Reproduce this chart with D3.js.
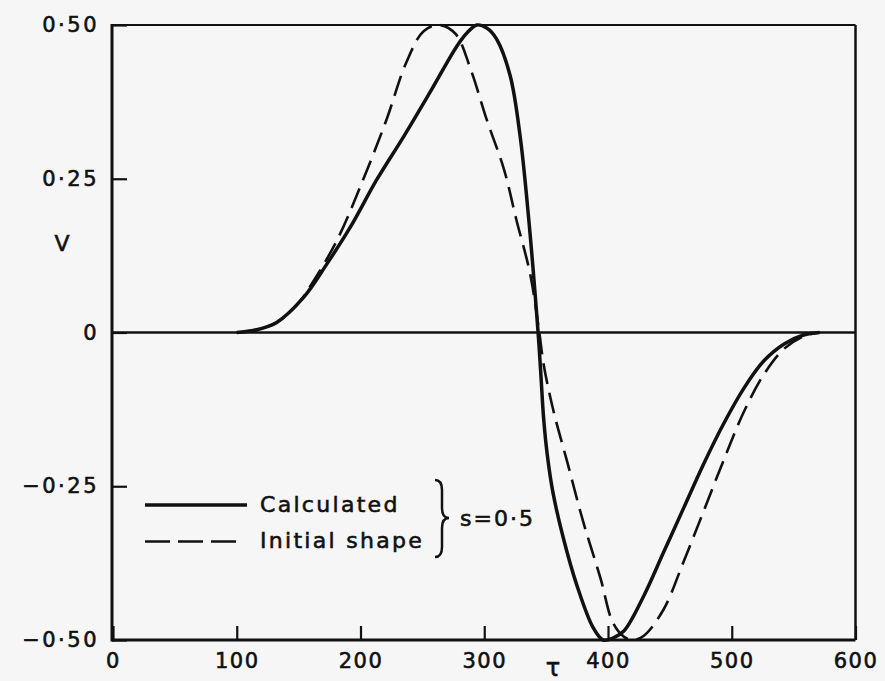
<!DOCTYPE html>
<html>
<head>
<meta charset="utf-8">
<script src="https://cdn.jsdelivr.net/npm/d3@7"></script>
<style>
  html, body { margin: 0; padding: 0; background: #f6f6f6; }
  svg { display: block; }
  text { font-family: 'DejaVu Sans', sans-serif; fill: #111; stroke: #111; stroke-width: 0.6px; }
</style>
</head>
<body>
<svg id="chart" width="885" height="681"></svg>
<script>
// ---- data ----
const calcTau = [100, 115, 132, 154, 173, 192, 213, 235, 256, 278, 286, 294, 302, 310, 321, 329, 336, 343.5, 345.5, 348, 351, 355.5, 364, 375, 388, 396, 404, 413, 429, 445, 461, 477, 493, 510, 526, 542, 558, 571];
const calcV   = [0, 0.004, 0.016, 0.057, 0.112, 0.172, 0.248, 0.319, 0.39, 0.466, 0.487, 0.5, 0.495, 0.477, 0.417, 0.319, 0.183, 0, -0.06, -0.14, -0.2, -0.26, -0.335, -0.412, -0.48, -0.5, -0.497, -0.485, -0.428, -0.357, -0.286, -0.215, -0.15, -0.09, -0.046, -0.019, -0.004, 0];

const initTau = [100, 115, 132, 150, 159, 181, 202, 221, 237, 251, 264, 277, 289, 302, 316, 326, 337, 344.5, 348, 356, 367, 380, 394, 404, 413, 420, 429, 445, 461, 477, 493, 510, 526, 542, 558, 571];
const initV   = [0, 0.004, 0.016, 0.048, 0.074, 0.15, 0.248, 0.346, 0.439, 0.49, 0.5, 0.485, 0.428, 0.346, 0.265, 0.183, 0.096, 0, -0.052, -0.128, -0.21, -0.308, -0.4, -0.472, -0.495, -0.5, -0.493, -0.45, -0.373, -0.292, -0.21, -0.128, -0.068, -0.027, -0.006, 0];

const xTicks = [0, 100, 200, 300, 400, 500, 600];
const yTicks = [-0.5, -0.25, 0, 0.25, 0.5];
const yTickLabels = ["−0·50", "−0·25", "0", "0·25", "0·50"];
const legendLabels = ["Calculated", "Initial shape"];
const paramLabel = "s=0·5";

// ---- drawing ----
const svg = d3.select("#chart");
const x = d3.scaleLinear().domain([0, 600]).range([113, 855.5]);
const y = d3.scaleLinear().domain([-0.5, 0.5]).range([640, 25]);

const ink = "#111";

// x axis (ticks inward)
const gx = svg.append("g").attr("transform", `translate(0,${y(-0.5)})`)
  .call(d3.axisBottom(x).tickValues(xTicks).tickSizeInner(-14).tickSizeOuter(0).tickPadding(13));
gx.select(".domain").remove();
gx.selectAll(".tick line").attr("stroke", ink).attr("stroke-width", 2.2);
gx.selectAll(".tick text").attr("font-size", 21).attr("letter-spacing", 1.5).attr("fill", ink);

// y axis
const gy = svg.append("g").attr("transform", `translate(${x(0) - 1},0)`)
  .call(d3.axisLeft(y).tickValues(yTicks).tickSizeInner(-15).tickSizeOuter(0).tickPadding(13)
    .tickFormat((d, i) => yTickLabels[i]));
gy.select(".domain").remove();
gy.selectAll(".tick line").attr("stroke", ink).attr("stroke-width", 2.2);
gy.selectAll(".tick text").attr("font-size", 21).attr("letter-spacing", 2.5).attr("fill", ink);

// frame
svg.append("line").attr("x1", x(0) - 1).attr("x2", x(600)).attr("y1", y(0.5)).attr("y2", y(0.5))
  .attr("stroke", ink).attr("stroke-width", 2);
svg.append("line").attr("x1", x(600)).attr("x2", x(600)).attr("y1", y(0.5)).attr("y2", y(-0.5))
  .attr("stroke", ink).attr("stroke-width", 2.5);
svg.append("line").attr("x1", x(0) - 1).attr("x2", x(600)).attr("y1", y(-0.5)).attr("y2", y(-0.5))
  .attr("stroke", ink).attr("stroke-width", 3);
svg.append("line").attr("x1", x(0) - 1).attr("x2", x(0) - 1).attr("y1", y(0.5) - 1).attr("y2", y(-0.5) + 1.5)
  .attr("stroke", ink).attr("stroke-width", 3);
// zero line
svg.append("line").attr("x1", x(0)).attr("x2", x(600)).attr("y1", y(0)).attr("y2", y(0))
  .attr("stroke", ink).attr("stroke-width", 2.5);

// curves
const line = d3.line().x(d => x(d[0])).y(d => y(d[1])).curve(d3.curveCatmullRom.alpha(0.5));
const calc = calcTau.map((t, i) => [t, calcV[i]]);
const init = initTau.map((t, i) => [t, initV[i]]);

svg.append("path").attr("d", line(init)).attr("fill", "none")
  .attr("stroke", ink).attr("stroke-width", 2.6).attr("stroke-dasharray", "21,9");
svg.append("path").attr("d", line(calc)).attr("fill", "none")
  .attr("stroke", ink).attr("stroke-width", 3.5);

// axis titles
svg.append("text").attr("x", 62).attr("y", 251).attr("text-anchor", "middle")
  .attr("font-size", 22).text("V");
svg.append("text").attr("x", 553).attr("y", 676).attr("text-anchor", "middle")
  .attr("font-size", 24).text("τ");

// legend
const lg = svg.append("g");
lg.append("line").attr("x1", 145).attr("x2", 247).attr("y1", 505).attr("y2", 505)
  .attr("stroke", ink).attr("stroke-width", 3.5);
lg.append("line").attr("x1", 145).attr("x2", 244).attr("y1", 541.5).attr("y2", 541.5)
  .attr("stroke", ink).attr("stroke-width", 2.6).attr("stroke-dasharray", "25,8");
lg.append("text").attr("x", 260).attr("y", 512).attr("font-size", 22).attr("letter-spacing", 2.3).text(legendLabels[0]);
lg.append("text").attr("x", 260).attr("y", 548).attr("font-size", 22).attr("letter-spacing", 2.3).text(legendLabels[1]);
lg.append("path")
  .attr("d", "M435,480 Q442,480 442,490 L442,508 Q442,518 449,518 Q442,518 442,528 L442,547 Q442,557 435,557")
  .attr("fill", "none").attr("stroke", ink).attr("stroke-width", 2.5);
lg.append("text").attr("x", 460).attr("y", 526).attr("font-size", 22).attr("letter-spacing", 2).text(paramLabel);
</script>
</body>
</html>
